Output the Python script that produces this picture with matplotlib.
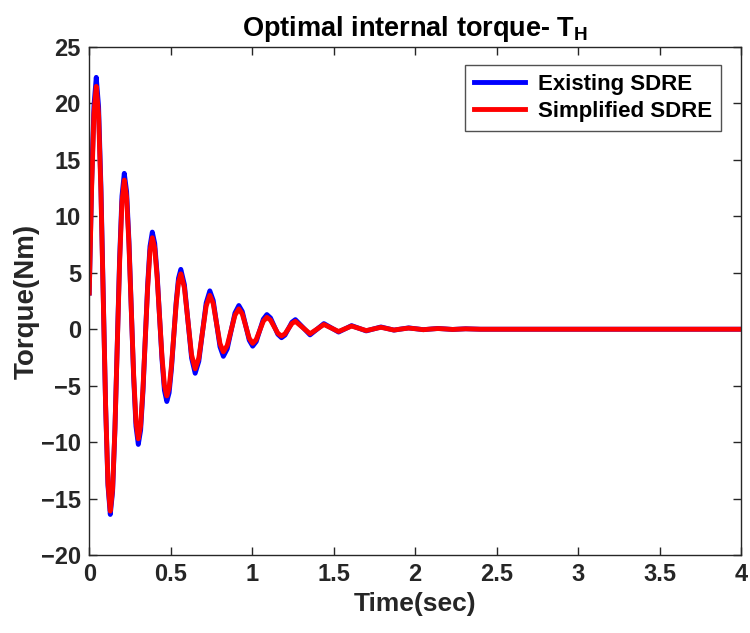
import matplotlib
matplotlib.use("Agg")
import matplotlib.pyplot as plt

# time samples (sec), shared by both controllers
t = [0.0, 0.0143, 0.0287, 0.043,
     0.0573, 0.0717, 0.086, 0.1003, 0.1147, 0.129,
     0.1433, 0.1577, 0.172, 0.1863, 0.2007, 0.215,
     0.2293, 0.2437, 0.258, 0.2723, 0.2867, 0.301,
     0.3153, 0.3297, 0.344, 0.3583, 0.3727, 0.387,
     0.4018, 0.4167, 0.4315, 0.4463, 0.4612, 0.476,
     0.4903, 0.5047, 0.519, 0.5333, 0.5477, 0.562,
     0.584, 0.606, 0.628, 0.650,
     0.6725, 0.695, 0.7175, 0.740,
     0.7608, 0.7815, 0.8023, 0.823,
     0.8468, 0.8705, 0.8943, 0.918,
     0.9393, 0.9605, 0.9818, 1.003,
     1.0248, 1.0465, 1.0683, 1.090,
     1.1125, 1.135, 1.1575, 1.180,
     1.2013, 1.2225, 1.2438, 1.265,
     1.31, 1.355, 1.398, 1.44, 1.485, 1.53, 1.57, 1.61,
     1.655, 1.70, 1.745, 1.79, 1.83, 1.87, 1.915, 1.96,
     2.005, 2.05, 2.095, 2.14, 2.185, 2.23, 2.31, 2.40, 4.0]

# Existing SDRE torque (Nm)
existing = [3.2, 12.75, 19.74, 22.3,
            19.71, 12.63, 2.95, -6.73, -13.81, -16.4,
            -14.38, -8.85, -1.3, 6.25, 11.78, 13.8,
            12.19, 7.8, 1.8, -4.2, -8.59, -10.2,
            -8.94, -5.5, -0.8, 3.9, 7.34, 8.6,
            7.6, 4.85, 1.1, -2.65, -5.4, -6.4,
            -5.62, -3.48, -0.55, 2.38, 4.52, 5.3,
            3.95, 0.7, -2.55, -3.9,
            -2.83, -0.25, 2.33, 3.4,
            2.55, 0.5, -1.55, -2.4,
            -1.74, -0.15, 1.44, 2.1,
            1.57, 0.3, -0.97, -1.5,
            -1.09, -0.1, 0.89, 1.3,
            1.0, 0.28, -0.45, -0.75,
            -0.52, 0.05, 0.62, 0.85,
            0.18, -0.5, 0.0, 0.5, 0.125, -0.25, 0.035, 0.32,
            0.085, -0.15, 0.025, 0.2, 0.06, -0.08, 0.02, 0.12,
            0.04, -0.04, 0.015, 0.07, 0.025, -0.02, 0.04, 0.0, 0.0]

# Simplified SDRE torque (Nm)
simplified = [3.2, 12.35, 19.05, 21.5,
              18.98, 12.1, 2.7, -6.7, -13.58, -16.1,
              -14.14, -8.78, -1.45, 5.88, 11.24, 13.2,
              11.67, 7.48, 1.75, -3.98, -8.17, -9.7,
              -8.51, -5.25, -0.8, 3.65, 6.91, 8.1,
              7.16, 4.6, 1.1, -2.4, -4.96, -5.9,
              -5.18, -3.2, -0.5, 2.2, 4.18, 4.9,
              3.67, 0.7, -2.27, -3.5,
              -2.55, -0.25, 2.05, 3.0,
              2.27, 0.5, -1.27, -2.0,
              -1.44, -0.1, 1.24, 1.8,
              1.35, 0.28, -0.8, -1.25,
              -0.91, -0.1, 0.71, 1.05,
              0.81, 0.22, -0.36, -0.6,
              -0.41, 0.05, 0.51, 0.7,
              0.15, -0.4, 0.01, 0.42, 0.11, -0.2, 0.04, 0.28,
              0.08, -0.12, 0.025, 0.17, 0.05, -0.07, 0.02, 0.1,
              0.04, -0.04, 0.015, 0.06, 0.025, -0.02, 0.035, 0.0, 0.0]

xticks = [0, 0.5, 1, 1.5, 2, 2.5, 3, 3.5, 4]
xticklabels = ['0', '0.5', '1', '1.5', '2', '2.5', '3', '3.5', '4']
yticks = [-20, -15, -10, -5, 0, 5, 10, 15, 20, 25]

plt.rcParams['font.family'] = ['Liberation Sans', 'DejaVu Sans']
plt.rcParams['font.weight'] = 'bold'
plt.rcParams['mathtext.fontset'] = 'custom'
plt.rcParams['mathtext.rm'] = 'Liberation Sans:bold'
plt.rcParams['mathtext.bf'] = 'Liberation Sans:bold'
plt.rcParams['mathtext.it'] = 'Liberation Sans:bold'

grey = '#262626'

fig = plt.figure(figsize=(7.5, 6.33), dpi=100)
ax = fig.add_axes([0.119, 0.123, 0.869, 0.803])

ax.plot(t, existing, color=(0, 0, 1), lw=3.5, label='Existing SDRE')
ax.plot(t, simplified, color=(1, 0, 0), lw=3.5, label='Simplified SDRE')

ax.set_xlim(0, 4)
ax.set_ylim(-20, 25)
ax.set_xticks(xticks)
ax.set_xticklabels(xticklabels)
ax.set_yticks(yticks)
ax.tick_params(direction='in', top=True, right=True, length=6, width=1,
               colors=grey, labelsize=17, pad=6)
for lab in ax.get_xticklabels() + ax.get_yticklabels():
    lab.set_fontweight('bold')
for s in ax.spines.values():
    s.set_color(grey)
    s.set_linewidth(1)

ax.set_xlabel('Time(sec)', fontsize=19, fontweight='bold', color=grey, labelpad=4)
ax.set_ylabel('Torque(Nm)', fontsize=20, fontweight='bold', color=grey, labelpad=1)
ax.set_title(r'Optimal internal torque- $\mathrm{T_H}$', fontsize=19.5,
             fontweight='bold', color='black', pad=8)

leg = ax.legend(loc='upper right', fontsize=16, frameon=True, fancybox=False,
                handlelength=2.3, borderpad=0.4, labelspacing=0.3,
                handletextpad=0.6, borderaxespad=0,
                bbox_to_anchor=(0.97, 0.965))
leg.get_frame().set_edgecolor(grey)
leg.get_frame().set_linewidth(1)
for txt in leg.get_texts():
    txt.set_fontweight('bold')

fig.savefig('out.png', dpi=100)
